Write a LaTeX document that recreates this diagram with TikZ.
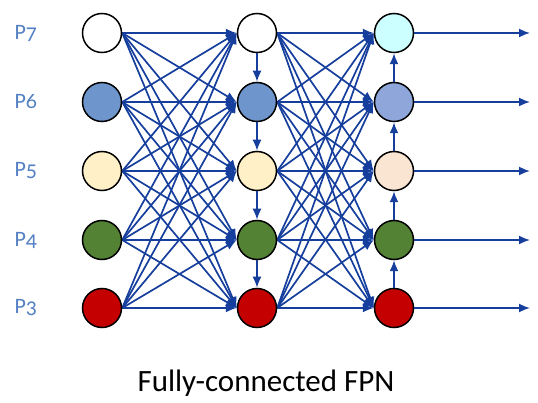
\documentclass[tikz,border=0pt]{standalone}
\usepackage{fontspec}
\setmainfont{Carlito}[Numbers=OldStyle]
\usetikzlibrary{arrows.meta,backgrounds}

\definecolor{linkblue}{RGB}{22,62,156}
\definecolor{labelblue}{RGB}{84,128,196}
\definecolor{steel}{RGB}{110,150,205}
\definecolor{cream}{RGB}{255,240,200}
\definecolor{leaf}{RGB}{84,130,53}
\definecolor{crimson}{RGB}{196,0,0}
\definecolor{aqua}{RGB}{204,255,255}
\definecolor{lavender}{RGB}{142,166,218}
\definecolor{peach}{RGB}{250,228,210}

\tikzset{
  level/.style={circle, draw=black, line width=1.5pt, minimum size=39pt, inner sep=0pt},
  link/.style={draw=linkblue, line width=1.7pt, -{Latex[length=11pt,width=9pt]}},
  lvlname/.style={text=labelblue, font=\fontsize{22}{25}\selectfont, anchor=west},
}

\begin{document}
\begin{tikzpicture}[x=1pt,y=-1pt]
  \useasboundingbox (0,0) rectangle (538,403);

  % three columns of pyramid levels, P7 (top) to P3 (bottom)
  \foreach \r/\y/\fa/\fc in {7/33/white/aqua, 6/102/steel/lavender, 5/171/cream/peach, 4/240/leaf/leaf, 3/308/crimson/crimson} {
    \node[level, fill=\fa] (a\r) at (102,\y) {};
    \node[level, fill=\fa] (b\r) at (257,\y) {};
    \node[level, fill=\fc] (c\r) at (394,\y) {};
    \node[lvlname] (n\r) at (11,\y) {P\r};
    \coordinate (o\r) at (530,\y);
  }

  \begin{scope}[on background layer]
    % every level feeds every level of the next column
    \foreach \i in {7,6,5,4,3} {
      \foreach \j in {7,6,5,4,3} {
        \draw[link] (a\i.east) -- (b\j.west);
        \draw[link] (b\i.east) -- (c\j.west);
      }
    }
  \end{scope}

  % top-down path in the middle column
  \draw[link] (b7) -- (b6);
  \draw[link] (b6) -- (b5);
  \draw[link] (b5) -- (b4);
  \draw[link] (b4) -- (b3);

  % bottom-up path in the output column
  \draw[link] (c3) -- (c4);
  \draw[link] (c4) -- (c5);
  \draw[link] (c5) -- (c6);
  \draw[link] (c6) -- (c7);

  % outputs
  \foreach \r in {7,6,5,4,3} {
    \draw[link] (c\r) -- (o\r);
  }

  \node[font=\fontsize{31}{36}\selectfont] (cap) at (266,383) {Fully-connected FPN};
\end{tikzpicture}
\end{document}
